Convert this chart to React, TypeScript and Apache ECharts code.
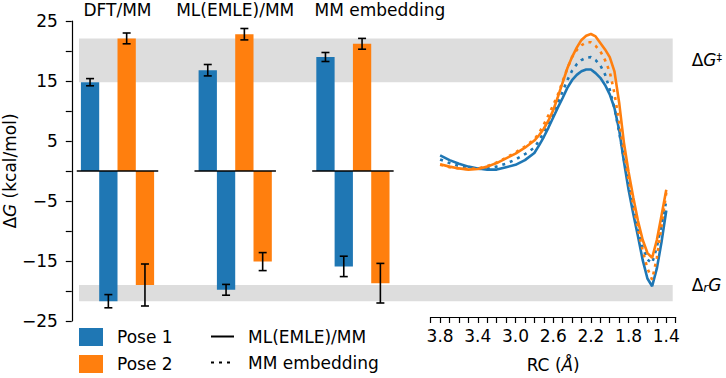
import React, { useEffect, useRef } from 'react';
import * as echarts from 'echarts';

// ---------- data ----------
const GROUPS = ['DFT/MM', 'ML(EMLE)/MM', 'MM embedding'];
const POSE1_BARRIER = [14.8, 16.8, 19.0];
const POSE1_BARRIER_ERR = [0.6, 0.95, 0.75];
const POSE1_REACTION = [-21.7, -19.8, -15.9];
const POSE1_REACTION_ERR = [1.1, 0.9, 1.7];
const POSE2_BARRIER = [22.1, 22.8, 21.2];
const POSE2_BARRIER_ERR = [0.9, 0.95, 0.9];
const POSE2_REACTION = [-19.0, -15.1, -18.7];
const POSE2_REACTION_ERR = [3.5, 1.5, 3.3];

const Y_TICK_LABELS = [25, 15, 5, -5, -15, -25];
const RC_TICK_LABELS = [3.8, 3.4, 3.0, 2.6, 2.2, 1.8, 1.4];

const RC = [3.8, 3.7, 3.6, 3.5, 3.4, 3.3, 3.2, 3.1, 3.0, 2.9, 2.8, 2.75, 2.7, 2.65, 2.6, 2.55, 2.5, 2.45, 2.4, 2.35, 2.3, 2.25, 2.2, 2.15, 2.1, 2.05, 2.0, 1.95, 1.9, 1.85, 1.8, 1.75, 1.7, 1.65, 1.6, 1.55, 1.5, 1.45, 1.4];
const POSE1_EMLE = [2.3, 1.5, 0.9, 0.4, 0.1, -0.1, -0.1, 0.3, 0.7, 1.5, 2.7, 4.0, 5.4, 7.0, 8.7, 10.4, 12.0, 13.7, 15.0, 15.9, 16.5, 16.8, 16.8, 16.2, 15.4, 14.2, 12.6, 10.3, 6.6, 1.3, -3.5, -7.6, -11.4, -15.4, -18.5, -19.8, -16.8, -12.3, -7.0];
const POSE2_EMLE = [0.8, 0.4, 0.1, -0.1, 0.0, 0.4, 1.0, 1.8, 2.6, 3.6, 4.8, 5.7, 6.8, 8.2, 9.9, 12.2, 14.6, 17.0, 18.9, 20.5, 21.8, 22.5, 22.8, 22.4, 21.3, 20.2, 18.9, 16.5, 11.2, 4.5, -0.5, -4.8, -8.8, -12.0, -14.2, -15.0, -12.0, -7.8, -3.5];
const POSE1_MM = [1.6, 1.0, 0.5, 0.2, 0.0, 0.1, 0.4, 0.9, 1.6, 2.5, 3.6, 4.8, 6.2, 7.7, 9.4, 11.2, 13.1, 15.0, 16.6, 17.7, 18.4, 18.8, 18.9, 18.4, 17.5, 16.0, 13.4, 10.3, 6.2, 1.7, -2.6, -6.6, -10.2, -13.3, -15.3, -15.9, -13.2, -9.4, -5.4];
const POSE2_MM = [0.7, 0.3, 0.1, 0.0, 0.1, 0.5, 1.1, 1.9, 2.8, 3.8, 5.0, 6.1, 7.5, 9.1, 10.8, 12.6, 14.8, 17.0, 18.9, 20.1, 20.9, 21.4, 21.4, 20.8, 19.9, 18.4, 16.4, 12.8, 7.9, 3.0, -1.8, -6.2, -10.2, -13.8, -16.8, -18.7, -15.0, -9.6, -4.0];

// ---------- styling ----------
const BLUE = '#1f77b4';
const ORANGE = '#ff7f0e';
const BAND = '#dddddd';
const FONT = 'DejaVu Sans';
const FS = 17;
const SLOT = 0.1555; // bar width in group units
const ZERO_HALF = 0.346;
const TITLE_SHIFT = [0, 0, 27];

const fmtNum = (v: number) => (v < 0 ? '\u2212' + String(Math.abs(v)) : String(v));

export default function App() {
  const ref = useRef<HTMLDivElement>(null);

  useEffect(() => {
    if (!ref.current) return;
    const chart = echarts.init(ref.current, undefined, { renderer: 'svg' });

    const barData = (barrier: number[], reaction: number[], slotBase: number) => {
      const out: number[][] = [];
      GROUPS.forEach((_, g) => {
        out.push([g, barrier[g], slotBase]);
        out.push([g, reaction[g], slotBase + 1]);
      });
      return out;
    };
    const errData: number[][] = [];
    GROUPS.forEach((_, g) => {
      errData.push([g, POSE1_BARRIER[g], POSE1_BARRIER_ERR[g], 0]);
      errData.push([g, POSE1_REACTION[g], POSE1_REACTION_ERR[g], 1]);
      errData.push([g, POSE2_BARRIER[g], POSE2_BARRIER_ERR[g], 2]);
      errData.push([g, POSE2_REACTION[g], POSE2_REACTION_ERR[g], 3]);
    });

    const barRender = (color: string) => (params: any, api: any) => {
      const g = api.value(0);
      const v = api.value(1);
      const s = api.value(2);
      const xl = g + (s - 2) * SLOT;
      const a = api.coord([xl, 0]);
      const b = api.coord([xl + SLOT, v]);
      return {
        type: 'rect',
        shape: { x: a[0], y: Math.min(a[1], b[1]), width: b[0] - a[0], height: Math.abs(b[1] - a[1]) },
        style: { fill: color },
      };
    };

    const bandData = [
      [Math.min(POSE1_BARRIER[0], POSE2_BARRIER[0]), Math.max(POSE1_BARRIER[0], POSE2_BARRIER[0]), 0],
      [Math.min(POSE1_REACTION[0], POSE2_REACTION[0]), Math.max(POSE1_REACTION[0], POSE2_REACTION[0]), 1],
    ];
    const bandLabels = ['{d|Δ}{i|G}{s|‡}', '{d|Δ}{r|r}{i|G}'];
    const labelShift = [0, -8];

    const option: any = {
      animation: false,
      textStyle: { fontFamily: FONT, color: '#000' },
      grid: [
        { left: 70, top: 21, width: 330, height: 300 },
        { left: 430.7, top: 21, width: 245, height: 300 },
        { left: 79, top: 21, width: 593.7, height: 300 },
      ],
      xAxis: [
        { gridIndex: 0, type: 'value', min: -0.3885, max: 2.4, show: false },
        {
          gridIndex: 1,
          type: 'value',
          min: 1.3,
          max: 3.9,
          interval: 0.1,
          inverse: true,
          axisLine: { show: true, onZero: false, lineStyle: { color: '#000', width: 1.2 } },
          axisTick: { show: true, length: 6, lineStyle: { color: '#000', width: 1.2 } },
          splitLine: { show: false },
          axisLabel: {
            formatter: (v: number) => {
              const r = Math.round(v * 10) / 10;
              return RC_TICK_LABELS.some((t) => Math.abs(t - r) < 1e-6) ? r.toFixed(1) : '';
            },
            margin: 10,
            fontSize: FS,
            color: '#000',
            fontFamily: FONT,
          },
          name: '{n|RC (}{i|Å}{n|)}',
          nameLocation: 'middle',
          nameGap: 39,
          nameTextStyle: {
            color: '#000',
            rich: {
              n: { fontSize: FS, fontFamily: FONT, color: '#000' },
              i: { fontSize: FS, fontFamily: FONT, fontStyle: 'italic', color: '#000' },
            },
          },
        },
        { gridIndex: 2, type: 'value', min: 0, max: 1, show: false },
      ],
      yAxis: [
        {
          gridIndex: 0,
          type: 'value',
          min: -25,
          max: 25,
          interval: 5,
          axisLine: { show: true, onZero: false, lineStyle: { color: '#000', width: 1.2 } },
          axisTick: { show: true, length: 6, lineStyle: { color: '#000', width: 1.2 } },
          splitLine: { show: false },
          axisLabel: {
            formatter: (v: number) => (Y_TICK_LABELS.includes(Math.round(v)) ? fmtNum(Math.round(v)) : ''),
            margin: 14,
            fontSize: FS,
            color: '#000',
            fontFamily: FONT,
          },
          name: '{n|Δ}{i|G}{n| (kcal/mol)}',
          nameLocation: 'middle',
          nameGap: 50,
          nameTextStyle: {
            color: '#000',
            rich: {
              n: { fontSize: FS, fontFamily: FONT, color: '#000' },
              i: { fontSize: FS, fontFamily: FONT, fontStyle: 'italic', color: '#000' },
            },
          },
        },
        { gridIndex: 1, type: 'value', min: -25, max: 25, show: false },
        { gridIndex: 2, type: 'value', min: -25, max: 25, show: false },
      ],
      legend: [
        {
          data: [
            { name: 'Pose 1', icon: 'rect' },
            { name: 'Pose 2', icon: 'rect' },
          ],
          orient: 'vertical',
          left: 79,
          top: 328,
          padding: 0,
          itemWidth: 24,
          itemHeight: 18,
          itemGap: 9,
          selectedMode: false,
          textStyle: { fontSize: FS, color: '#000', fontFamily: FONT, padding: [0, 0, 0, 9] },
        },
        {
          data: [
            { name: 'ML(EMLE)/MM', itemStyle: { opacity: 0 } },
            { name: 'MM embedding', itemStyle: { opacity: 0 } },
          ],
          orient: 'vertical',
          left: 210,
          top: 328,
          padding: 0,
          itemWidth: 23,
          itemHeight: 18,
          itemGap: 9,
          selectedMode: false,
          textStyle: { fontSize: FS, color: '#000', fontFamily: FONT, padding: [0, 0, 0, 9] },
        },
      ],
      series: [
        {
          type: 'custom',
          name: 'bands',
          xAxisIndex: 2,
          yAxisIndex: 2,
          z: 0,
          silent: true,
          data: bandData,
          renderItem: (params: any, api: any) => {
            const lo = api.value(0);
            const hi = api.value(1);
            const idx = api.value(2);
            const a = api.coord([0, hi]);
            const b = api.coord([1, lo]);
            return {
              type: 'group',
              children: [
                { type: 'rect', shape: { x: a[0], y: a[1], width: b[0] - a[0], height: b[1] - a[1] }, style: { fill: BAND } },
                {
                  type: 'text',
                  x: b[0] + 19,
                  y: (a[1] + b[1]) / 2 + labelShift[idx],
                  style: {
                    text: bandLabels[idx],
                    fill: '#000',
                    align: 'left',
                    verticalAlign: 'middle',
                    rich: {
                      d: { fontSize: FS, fontFamily: FONT, fill: '#000' },
                      i: { fontSize: FS, fontFamily: FONT, fontStyle: 'italic', fill: '#000' },
                      s: { fontSize: 11, fontFamily: FONT, fill: '#000', verticalAlign: 'top' },
                      r: { fontSize: 12, fontFamily: FONT, fontStyle: 'italic', fill: '#000', verticalAlign: 'bottom' },
                    },
                  },
                },
              ],
            };
          },
        },
        {
          type: 'custom',
          name: 'Pose 1',
          xAxisIndex: 0,
          yAxisIndex: 0,
          z: 2,
          itemStyle: { color: BLUE },
          data: barData(POSE1_BARRIER, POSE1_REACTION, 0),
          renderItem: barRender(BLUE),
        },
        {
          type: 'custom',
          name: 'Pose 2',
          xAxisIndex: 0,
          yAxisIndex: 0,
          z: 2,
          itemStyle: { color: ORANGE },
          data: barData(POSE2_BARRIER, POSE2_REACTION, 2),
          renderItem: barRender(ORANGE),
        },
        {
          type: 'custom',
          name: 'errors',
          xAxisIndex: 0,
          yAxisIndex: 0,
          z: 3,
          silent: true,
          data: errData,
          renderItem: (params: any, api: any) => {
            const g = api.value(0);
            const v = api.value(1);
            const e = api.value(2);
            const s = api.value(3);
            const xc = g + (s - 2) * SLOT + SLOT / 2;
            const top = api.coord([xc, v + e]);
            const bot = api.coord([xc, v - e]);
            const st = { stroke: '#000', lineWidth: 1.6 };
            return {
              type: 'group',
              children: [
                { type: 'line', shape: { x1: top[0], y1: top[1], x2: bot[0], y2: bot[1] }, style: st },
                { type: 'line', shape: { x1: top[0] - 4, y1: top[1], x2: top[0] + 4, y2: top[1] }, style: st },
                { type: 'line', shape: { x1: bot[0] - 4, y1: bot[1], x2: bot[0] + 4, y2: bot[1] }, style: st },
              ],
            };
          },
        },
        {
          type: 'custom',
          name: 'zero',
          xAxisIndex: 0,
          yAxisIndex: 0,
          z: 4,
          silent: true,
          data: GROUPS.map((_, g) => [g, 0]),
          renderItem: (params: any, api: any) => {
            const g = api.value(0);
            const a = api.coord([g - ZERO_HALF, 0]);
            const b = api.coord([g + ZERO_HALF, 0]);
            const t = api.coord([g, 25]);
            return {
              type: 'group',
              children: [
                { type: 'line', shape: { x1: a[0], y1: a[1], x2: b[0], y2: b[1] }, style: { stroke: '#000', lineWidth: 1.6 } },
                {
                  type: 'text',
                  x: t[0] + TITLE_SHIFT[g],
                  y: t[1] - 11,
                  style: {
                    text: GROUPS[g],
                    fill: '#000',
                    font: `${FS}px "${FONT}"`,
                    fontSize: FS,
                    fontFamily: FONT,
                    align: 'center',
                    textAlign: 'center',
                    verticalAlign: 'middle',
                    textVerticalAlign: 'middle',
                  },
                },
              ],
            };
          },
        },
        {
          type: 'line',
          name: 'Pose 1 ML(EMLE)/MM',
          xAxisIndex: 1,
          yAxisIndex: 1,
          z: 3,
          symbol: 'none',
          data: RC.map((x, i) => [x, POSE1_EMLE[i]]),
          lineStyle: { color: BLUE, width: 2.6 },
          color: BLUE,
        },
        {
          type: 'line',
          name: 'Pose 1 MM embedding',
          xAxisIndex: 1,
          yAxisIndex: 1,
          z: 3,
          symbol: 'none',
          data: RC.map((x, i) => [x, POSE1_MM[i]]),
          lineStyle: { color: BLUE, width: 2.6, type: [3, 5] },
          color: BLUE,
        },
        {
          type: 'line',
          name: 'Pose 2 ML(EMLE)/MM',
          xAxisIndex: 1,
          yAxisIndex: 1,
          z: 3,
          symbol: 'none',
          data: RC.map((x, i) => [x, POSE2_EMLE[i]]),
          lineStyle: { color: ORANGE, width: 2.6 },
          color: ORANGE,
        },
        {
          type: 'line',
          name: 'Pose 2 MM embedding',
          xAxisIndex: 1,
          yAxisIndex: 1,
          z: 3,
          symbol: 'none',
          data: RC.map((x, i) => [x, POSE2_MM[i]]),
          lineStyle: { color: ORANGE, width: 2.6, type: [3, 5] },
          color: ORANGE,
        },
        {
          type: 'line',
          name: 'ML(EMLE)/MM',
          xAxisIndex: 1,
          yAxisIndex: 1,
          symbol: 'none',
          data: [],
          color: '#000',
          lineStyle: { color: '#000', width: 2.6, type: 'solid' },
        },
        {
          type: 'line',
          name: 'MM embedding',
          xAxisIndex: 1,
          yAxisIndex: 1,
          symbol: 'none',
          data: [],
          color: '#000',
          lineStyle: { color: '#000', width: 2.6, type: [3, 5] },
        },
      ],
    };

    chart.setOption(option);
    return () => chart.dispose();
  }, []);

  return <div ref={ref} style={{ position: 'absolute', left: 0, top: 0, width: 726, height: 378 }} />;
}
